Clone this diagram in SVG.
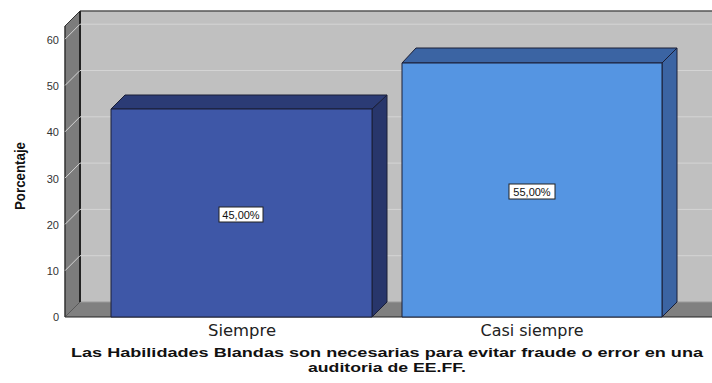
<svg xmlns="http://www.w3.org/2000/svg" width="712" height="383" viewBox="0 0 712 383">
<style>
.tick{font-family:"Liberation Sans",Arial,sans-serif;font-size:11px;fill:#333;text-anchor:end}
.cat{font-family:"DejaVu Sans","Liberation Sans",sans-serif;font-size:15px;fill:#222;text-anchor:middle}
.title{font-family:"Liberation Sans",Arial,sans-serif;font-weight:bold;font-size:13px;fill:#111;text-anchor:middle}
.dl{font-family:"Liberation Sans",Arial,sans-serif;font-size:11px;fill:#111;text-anchor:middle}
.grid{stroke:#d4d4d4;stroke-width:1;fill:none}
.edge{stroke:#1a1e36;stroke-width:1;stroke-linejoin:round}
</style>
<rect width="712" height="383" fill="#ffffff"/>
<g id="plot-area">
  <rect x="80" y="11" width="632" height="291" fill="#c0c0c0"/>
  <line x1="80" y1="11" x2="712" y2="11" stroke="#555" stroke-width="1.5"/>
  <polygon points="65,26 80,11 80,302 65,317" fill="#7c7c7c" stroke="#333" stroke-width="1"/>
  <polygon points="65,317 80,302 712,302 712,317" fill="#808080"/>
  <line x1="80" y1="302" x2="712" y2="302" stroke="#9a9a9a" stroke-width="1"/>
  <line x1="80" y1="11" x2="80" y2="302" stroke="#222" stroke-width="2"/>
  <line x1="65" y1="317" x2="712" y2="317" stroke="#222" stroke-width="1.2"/>
  <line x1="65" y1="26" x2="65" y2="317" stroke="#333" stroke-width="1"/>
  <g class="grid">
    <line x1="80" y1="255.7" x2="712" y2="255.7"/>
    <line x1="80" y1="209.4" x2="712" y2="209.4"/>
    <line x1="80" y1="163.1" x2="712" y2="163.1"/>
    <line x1="80" y1="116.8" x2="712" y2="116.8"/>
    <line x1="80" y1="70.5" x2="712" y2="70.5"/>
    <line x1="80" y1="24.2" x2="712" y2="24.2"/>
    <line x1="65" y1="270.7" x2="80" y2="255.7"/>
    <line x1="65" y1="224.4" x2="80" y2="209.4"/>
    <line x1="65" y1="178.1" x2="80" y2="163.1"/>
    <line x1="65" y1="131.8" x2="80" y2="116.8"/>
    <line x1="65" y1="85.5" x2="80" y2="70.5"/>
    <line x1="65" y1="39.2" x2="80" y2="24.2"/>
  </g>
</g>
<g id="y-axis">
  <text class="tick" x="59" y="321">0</text>
  <text class="tick" x="59" y="275">10</text>
  <text class="tick" x="59" y="229">20</text>
  <text class="tick" x="59" y="183">30</text>
  <text class="tick" x="59" y="136">40</text>
  <text class="tick" x="59" y="90">50</text>
  <text class="tick" x="59" y="44">60</text>
  <text x="25" y="176" transform="rotate(-90 25 176)" font-family="'Liberation Sans',Arial,sans-serif" font-weight="bold" font-size="15.5" fill="#111" text-anchor="middle" textLength="68" lengthAdjust="spacingAndGlyphs">Porcentaje</text>
</g>
<g id="bar-siempre">
  <polygon class="edge" points="372,109 387,95 387,302 372,317" fill="#28366b"/>
  <polygon class="edge" points="111,109 125,95 387,95 372,109" fill="#2b3b75"/>
  <rect class="edge" x="111" y="109" width="261" height="208" fill="#3e57a7"/>
  <rect x="219" y="207" width="44" height="15" fill="#ffffff" stroke="#222" stroke-width="1"/>
  <text class="dl" x="241" y="218.5">45,00%</text>
</g>
<g id="bar-casi-siempre">
  <polygon class="edge" points="662,63 677,48 677,302 662,317" fill="#3b64a3"/>
  <polygon class="edge" points="402,63 416,48 677,48 662,63" fill="#3b64a3"/>
  <rect class="edge" x="402" y="63" width="260" height="254" fill="#5595e2"/>
  <rect x="509" y="184" width="46" height="15" fill="#ffffff" stroke="#222" stroke-width="1"/>
  <text class="dl" x="532" y="195.5">55,00%</text>
</g>
<g id="x-axis">
  <text class="cat" x="242" y="336" textLength="68" lengthAdjust="spacingAndGlyphs">Siempre</text>
  <text class="cat" x="532" y="336" textLength="103" lengthAdjust="spacingAndGlyphs">Casi siempre</text>
  <text class="title" x="387" y="357" textLength="632" lengthAdjust="spacingAndGlyphs">Las Habilidades Blandas son necesarias para evitar fraude o error en una</text>
  <text class="title" x="387" y="372" textLength="158" lengthAdjust="spacingAndGlyphs">auditoria de EE.FF.</text>
</g>
<g id="connectors"/>
</svg>
